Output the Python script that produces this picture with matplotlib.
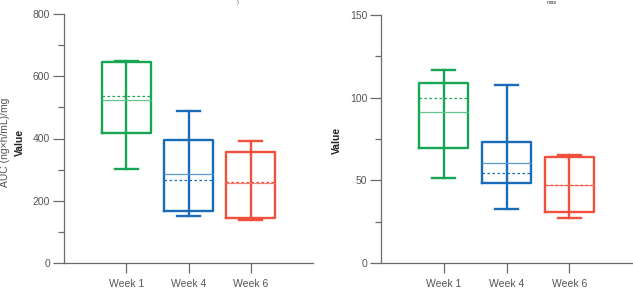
import matplotlib.pyplot as plt
import numpy as np

plt.rcParams['font.family'] = ['Liberation Sans', 'DejaVu Sans']

weeks = ['Week 1', 'Week 4', 'Week 6']
pos = [1, 2, 3]
cols = ['#17a653', '#1a6cb8', '#f0503c']
med_cols = ['#62c68a', '#5e9ad2', '#f4857a']

# AUC (ng*h/mL)/mg
auc_min = [302, 152, 139]
auc_q1 = [418, 168, 146]
auc_med = [524, 287, 256]
auc_mean = [537, 267, 261]
auc_q3 = [645, 395, 356]
auc_max = [650, 488, 392]

# Cmax
cmax_min = [51.3, 32.9, 27.1]
cmax_q1 = [69.7, 48.6, 30.9]
cmax_med = [91.4, 60.7, 47.4]
cmax_mean = [99.5, 54.6, 47.0]
cmax_q3 = [109.0, 73.2, 64.3]
cmax_max = [116.4, 107.4, 65.3]

fig = plt.figure(figsize=(6.33, 2.96), dpi=100)
ax1 = fig.add_axes([64/633, 33/296, 249/633, 249/296])
ax2 = fig.add_axes([381/633, 32.7/296, 251/633, 248.6/296])

gray = '#6b6b6b'

def draw(ax, mn, q1, med, mean, q3, mx, ymax, major, minor):
    for i in range(3):
        st = [dict(whislo=mn[i], q1=q1[i], med=med[i], mean=mean[i],
                   q3=q3[i], whishi=mx[i], fliers=[])]
        c = cols[i]
        ax.bxp(st, positions=[pos[i]], widths=0.78, capwidths=0.37,
               showmeans=True, meanline=True, showfliers=False,
               boxprops=dict(color=c, lw=1.7),
               whiskerprops=dict(color=c, lw=1.7),
               capprops=dict(color=c, lw=1.7),
               medianprops=dict(color=med_cols[i], lw=0.9),
               meanprops=dict(color=c, lw=0.9, linestyle=(0, (2, 2))),
               manage_ticks=False)
        # whisker line runs through the box
        ax.vlines(pos[i], q1[i], q3[i], color=c, lw=1.7)
    ax.set_xlim(0, 4)
    ax.set_ylim(0, ymax)
    ax.set_yticks(np.arange(0, ymax + 1, major))
    ax.set_yticks(np.arange(minor, ymax, major), minor=True)
    ax.set_xticks(pos)
    ax.set_xticklabels(weeks)
    for s in ['top', 'right']:
        ax.spines[s].set_visible(False)
    for s in ['left', 'bottom']:
        ax.spines[s].set_color(gray)
        ax.spines[s].set_linewidth(0.9)
    ax.tick_params(axis='y', which='major', length=8, width=0.9, color=gray,
                   labelsize=7.5, labelcolor='#555555', pad=2)
    ax.tick_params(axis='y', which='minor', length=4.5, width=0.9, color=gray)
    ax.tick_params(axis='x', length=7.5, width=0.9, color=gray,
                   labelsize=7.5, labelcolor='#555555', pad=4)

draw(ax1, auc_min, auc_q1, auc_med, auc_mean, auc_q3, auc_max, 800, 200, 100)
draw(ax2, cmax_min, cmax_q1, cmax_med, cmax_mean, cmax_q3, cmax_max, 150, 50, 25)

fig.text(5/633, 1 - 142/296, 'AUC (ng×h/mL)/mg', rotation=90, ha='center', va='center',
         fontsize=7.5, color='#555555')
fig.text(20/633, 1 - 142/296, 'Value', rotation=90, ha='center', va='center',
         fontsize=7.5, fontweight='bold', color='#222222')
fig.text(337/633, 1 - 140/296, 'Value', rotation=90, ha='center', va='center',
         fontsize=7.5, fontweight='bold', color='#222222')

# small fragments of the panel titles at the top edge
fig.text(238/633, 0.999, ')', ha='center', va='top', fontsize=4, color='#555555')
fig.text(552/633, 0.999, 'max', ha='center', va='top', fontsize=4, color='#333333')

fig.savefig('out.png', dpi=100)
